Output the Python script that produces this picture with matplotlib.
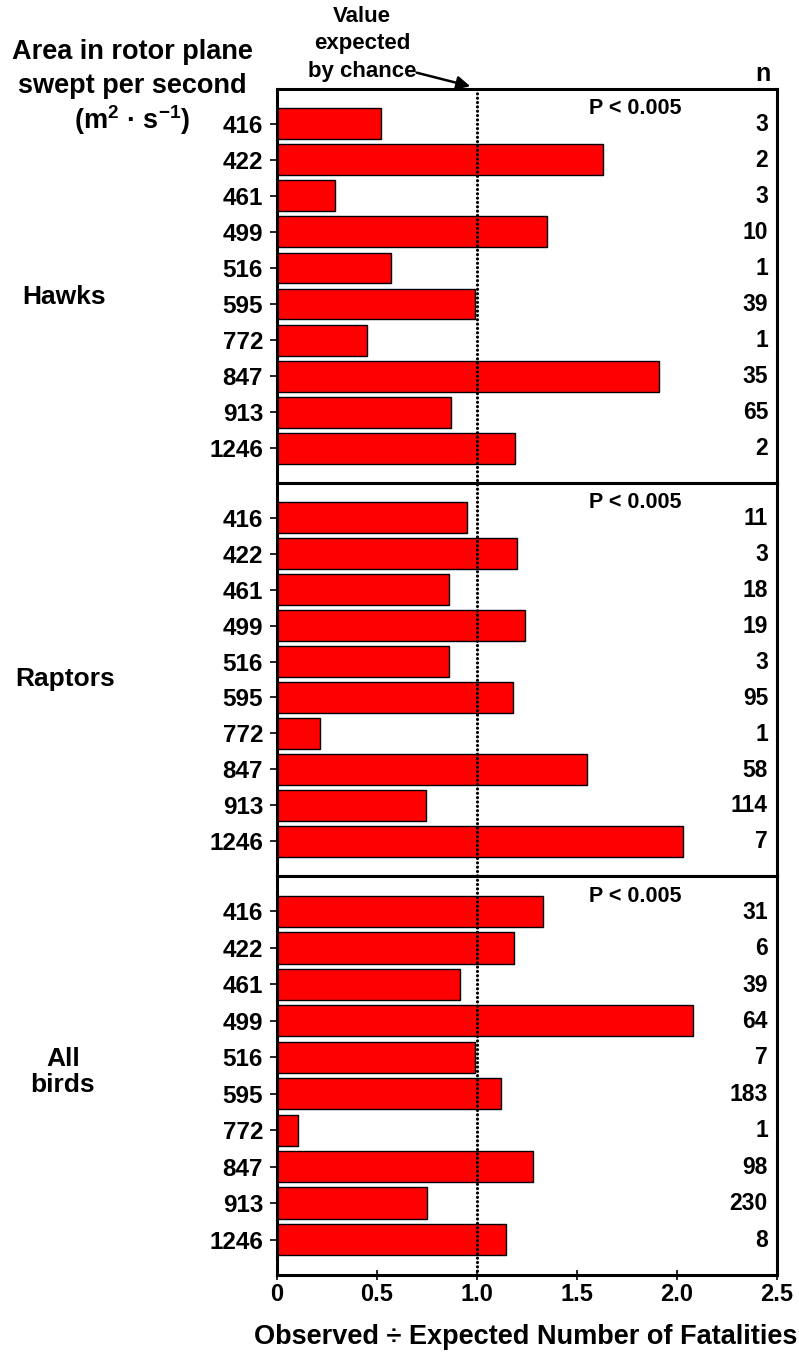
import numpy as np
import matplotlib
import matplotlib.pyplot as plt
import matplotlib.transforms as mtransforms

# 字体: Liberation Sans (Arial 替代), 粗体
matplotlib.rcParams['font.family'] = 'sans-serif'
matplotlib.rcParams['font.sans-serif'] = ['Liberation Sans', 'DejaVu Sans']
matplotlib.rcParams['font.weight'] = 'bold'
matplotlib.rcParams['mathtext.fontset'] = 'custom'
matplotlib.rcParams['mathtext.rm'] = 'Liberation Sans:bold'
matplotlib.rcParams['mathtext.it'] = 'Liberation Sans:bold'
matplotlib.rcParams['mathtext.bf'] = 'Liberation Sans:bold'

# 数据
areas = ['416', '422', '461', '499', '516', '595', '772', '847', '913', '1246']
groups = ['Hawks', 'Raptors', 'All\nbirds']
hawks_ratio = [0.52, 1.63, 0.29, 1.35, 0.57, 0.99, 0.45, 1.91, 0.87, 1.19]
raptors_ratio = [0.95, 1.20, 0.86, 1.24, 0.86, 1.18, 0.215, 1.55, 0.745, 2.03]
allbirds_ratio = [1.33, 1.185, 0.915, 2.08, 0.99, 1.12, 0.105, 1.28, 0.75, 1.145]
hawks_n = [3, 2, 3, 10, 1, 39, 1, 35, 65, 2]
raptors_n = [11, 3, 18, 19, 3, 95, 1, 58, 114, 7]
allbirds_n = [31, 6, 39, 64, 7, 183, 1, 98, 230, 8]
p_labels = ['P < 0.005', 'P < 0.005', 'P < 0.005']
x_ticks = [0, 0.5, 1.0, 1.5, 2.0, 2.5]
x_ticklabels = ['0', '0.5', '1.0', '1.5', '2.0', '2.5']
chance_value = 1.0

ratios = [hawks_ratio, raptors_ratio, allbirds_ratio]
counts = [hawks_n, raptors_n, allbirds_n]

W, H = 799, 1352
fig = plt.figure(figsize=(W / 100, H / 100), dpi=100)


def fx(px):
    return px / W


def fy(py):
    return 1 - py / H


# 三个面板的像素边界 (上, 下)
panel_px = [(89, 483), (483, 876), (876, 1275)]
group_pos = [(22, 297, 'left'), (15, 679, 'left'), (63, 1072, 'center')]
left_px, right_px = 277, 777

axes = []
for k, (top, bottom) in enumerate(panel_px):
    ax = fig.add_axes([fx(left_px), fy(bottom), fx(right_px - left_px), (bottom - top) / H])
    y = np.arange(len(areas))
    ax.barh(y, ratios[k], height=0.86, color='#FF0000', edgecolor='black', linewidth=1.0, zorder=2)
    ax.set_xlim(0, 2.5)
    ax.set_ylim(len(areas) - 1 + 0.97, -0.97)
    ax.set_yticks(y)
    ax.set_yticklabels(areas, fontsize=17.5, fontweight='bold')
    ax.tick_params(axis='y', direction='out', length=5, width=1.2, pad=5)
    for s in ax.spines.values():
        s.set_linewidth(2.2)
    # n 值
    for i, n in enumerate(counts[k]):
        ax.text(2.455, i + 0.02, str(n), ha='right', va='center', fontsize=16.5, fontweight='bold')
    ax.text(1.79, -0.42, p_labels[k], ha='center', va='center', fontsize=15.5, fontweight='bold')
    if k < 2:
        ax.set_xticks([])
    else:
        ax.set_xticks(x_ticks)
        ax.set_xticklabels(x_ticklabels, fontsize=17, fontweight='bold')
        ax.tick_params(axis='x', direction='inout', length=7, width=1.2, pad=2)
    gx, gy, ha = group_pos[k]
    fig.text(fx(gx), fy(gy), groups[k], ha=ha, va='center', fontsize=19,
             fontweight='bold', linespacing=1.15)
    axes.append(ax)

# 机会期望值虚线, 贯穿三个面板
trans = mtransforms.blended_transform_factory(axes[-1].transData, fig.transFigure)
line = matplotlib.lines.Line2D([chance_value, chance_value], [fy(89), fy(1275)], transform=trans,
                               color='black', linewidth=2.3, linestyle=(0, (0.01, 1.35)),
                               dash_capstyle='round', zorder=5)
fig.add_artist(line)

# 左上标题
header = ['Area in rotor plane', 'swept per second', r'(m$^{2}$ · s$^{-1}$)']
for i, t in enumerate(header):
    fig.text(fx(132), fy(52 + 34 * i), t, ha='center', va='center', fontsize=19.5, fontweight='bold')

# "Value expected by chance" 注释
for i, t in enumerate(['Value', 'expected', 'by chance']):
    fig.text(fx(362), fy(17 + 27 * i), t, ha='center', va='center', fontsize=16, fontweight='bold')
fig.add_artist(matplotlib.patches.FancyArrowPatch((fx(414), fy(72)), (fx(473), fy(87)),
                                                  transform=fig.transFigure, arrowstyle='-|>',
                                                  mutation_scale=20, color='black', linewidth=1.8))

fig.text(fx(763), fy(74), 'n', ha='center', va='center', fontsize=18, fontweight='bold')
fig.text(fx(526), fy(1337), 'Observed ÷ Expected Number of Fatalities', ha='center', va='center',
         fontsize=19.5, fontweight='bold')

plt.savefig('out.png', dpi=100)
